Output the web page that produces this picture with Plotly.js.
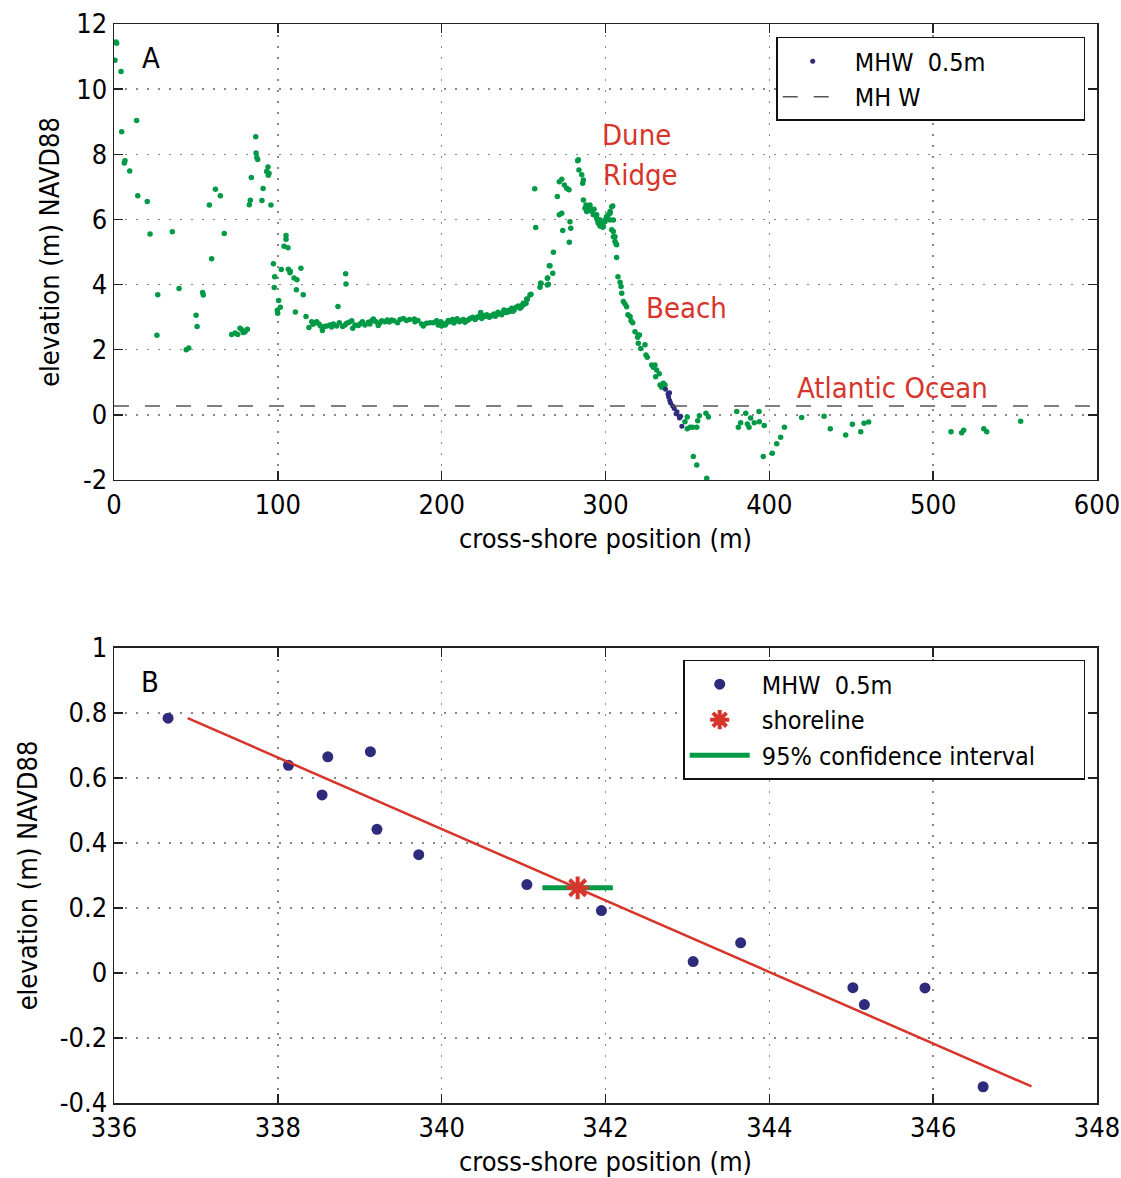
<!DOCTYPE html>
<html>
<head>
<meta charset="utf-8">
<script src="https://cdn.plot.ly/plotly-3.0.1.min.js"></script>
<style>html,body{margin:0;padding:0;background:#fff;}</style>
</head>
<body>
<div id="chart" style="width:1121px;height:1178px;"></div>
<script>
// ---------- Panel A: all surveyed points (green) ----------
const aX = [0.6,1.6,1.2,4.3,4.7,6.3,6.7,9.6,13.8,14.5,20.3,22.0,26.2,26.7,35.6,39.7,44.1,45.6,50.1,50.7,54.1,54.5,58.2,59.6,61.9,64.9,67.3,71.8,73.9,75.5,76.9,78.0,78.9,80.0,81.4,82.6,83.2,83.8,86.5,86.7,87.1,87.7,90.3,91.0,93.2,94.0,94.2,94.6,95.8,97.3,97.8,98.1,99.7,99.9,
100.5,101.5,102.1,103.8,105.0,105.0,106.2,106.4,107.4,107.6,109.9,110.7,111.3,111.7,114.1,115.5,117.2,119.0,
120.7,121.5,122.3,123.7,125.1,126.1,127.2,128.4,129.8,131.8,132.8,133.9,135.9,136.7,137.5,139.6,141.0,141.4,141.6,142.0,143.5,145.1,145.7,147.1,149.1,150.3,151.6,153.2,155.2,156.2,157.3,158.3,159.9,161.3,162.3,163.4,165.4,166.8,168.0,169.5,170.9,173.1,174.6,176.6,178.5,180.3,183.3,183.7,185.5,187.8,188.8,190.8,192.9,194.9,196.9,197.9,198.6,199.5,200.0,201.0,202.2,203.1,204.0,205.1,206.7,207.5,208.1,209.4,210.8,212.0,213.2,214.2,215.3,216.4,217.3,218.9,219.6,220.4,221.3,222.4,223.8,224.4,225.5,226.5,227.5,228.2,229.1,230.5,231.9,232.7,233.6,234.4,235.2,236.6,237.3,238.0,239.7,240.5,241.3,242.7,243.5,244.2,245.4,246.8,247.8,248.6,249.4,249.8,250.6,251.5,251.9,252.3,253.9,254.5,
256.8,257.4,260.0,260.4,260.6,264.5,264.5,264.7,265.1,265.7,266.1,267.8,268.2,270.6,271.8,271.8,273.3,273.3,273.9,274.9,276.3,277.7,277.9,278.3,278.8,283.4,283.0,283.8,285.5,286.1,286.5,286.5,287.5,288.1,288.5,288.9,290.5,290.5,291.6,291.6,292.6,293.0,294.6,294.6,295.0,295.6,295.6,296.2,296.6,296.6,297.7,298.3,298.7,299.7,299.7,300.7,300.7,301.7,302.8,302.8,302.8,303.8,303.8,304.4,304.8,304.8,304.8,305.8,305.8,306.4,306.8,306.8,307.6,308.9,309.5,309.9,310.9,311.9,312.9,313.7,315.0,315.6,316.6,318.0,319.6,320.0,320.0,320.7,321.5,324.1,324.7,325.5,328.2,329.2,330.2,330.6,331.2,332.8,333.3,334.3,335.3,336.3,
349.9,348.5,349.9,351.6,353.2,355.7,356.3,357.3,361.3,362.8,353.6,355.7,361.8,380.1,381.1,382.5,385.6,386.6,387.6,388.6,390.8,393.7,393.9,396.9,396.3,401.8,404.5,406.9,409.2,419.7,433.4,437.2,446.6,450.7,455.8,457.8,460.6,510.9,517.4,518.6,530.9,532.7,553.4];
const aY = [10.89,11.41,11.45,10.54,8.69,7.73,7.80,7.49,9.04,6.73,6.55,5.55,2.44,3.69,5.62,3.88,2.00,2.05,3.06,2.71,3.76,3.68,6.44,4.79,6.93,6.73,5.57,2.47,2.51,2.47,2.66,2.61,2.53,2.55,2.63,6.45,6.59,7.29,8.54,8.04,7.90,7.84,6.58,6.95,7.47,7.61,7.36,7.42,6.44,4.64,3.91,4.24,3.21,3.12,
3.51,3.30,4.46,5.18,5.51,5.39,5.13,4.47,4.36,4.41,4.20,3.16,3.84,4.15,4.50,3.69,3.02,2.68,
2.86,2.78,2.83,2.86,2.79,2.73,2.59,2.71,2.73,2.76,2.70,2.79,2.73,3.33,2.83,2.71,2.76,4.33,4.02,2.81,2.84,2.89,2.66,2.76,2.74,2.80,2.86,2.76,2.84,2.79,2.89,2.94,2.86,2.74,2.82,2.89,2.86,2.91,2.85,2.91,2.89,2.83,2.93,2.96,2.90,2.93,2.94,2.86,2.90,2.79,2.73,2.81,2.83,2.83,2.89,2.76,2.81,2.86,2.73,2.79,2.76,2.83,2.90,2.86,2.93,2.82,2.89,2.95,2.86,2.90,2.93,2.84,2.89,2.92,2.96,3.00,2.97,2.93,2.98,3.02,3.14,2.96,3.05,3.02,3.07,3.04,3.00,3.04,3.10,3.03,3.07,3.15,3.12,3.07,3.13,3.22,3.14,3.20,3.17,3.27,3.18,3.22,3.30,3.34,3.27,3.31,3.37,3.43,3.40,3.43,3.56,3.55,3.68,3.70,
6.94,5.75,3.92,4.04,4.04,4.19,3.99,4.20,4.01,4.58,4.58,4.35,4.99,6.70,7.16,6.14,7.23,6.19,5.66,7.06,6.96,6.91,5.30,5.93,5.73,7.83,7.80,7.52,7.37,7.11,7.21,6.60,6.34,6.44,6.24,6.31,6.37,6.44,6.24,6.29,6.14,6.31,6.14,6.04,5.98,5.88,5.93,5.98,5.80,5.98,5.88,5.76,5.78,5.98,5.93,6.09,6.04,6.14,6.19,5.98,6.24,6.39,5.68,6.41,5.98,5.63,5.47,5.47,5.32,5.25,5.22,4.83,4.24,4.07,3.94,3.73,3.48,3.40,3.32,3.07,3.02,2.89,2.83,2.55,2.38,2.45,2.20,2.45,2.04,2.15,1.84,1.77,1.53,1.46,1.53,1.17,1.38,1.26,0.92,0.85,0.97,0.92,
-0.07,-0.21,-0.43,-0.38,-0.38,-0.38,-0.18,-0.03,0.05,-0.07,-1.28,-1.54,-1.95,0.10,-0.38,-0.24,0.05,-0.28,-0.38,-0.10,-0.24,0.10,-0.21,-0.33,-1.28,-1.18,-0.89,-0.69,-0.38,-0.08,-0.04,-0.43,-0.62,-0.29,-0.52,-0.26,-0.22,-0.52,-0.55,-0.47,-0.43,-0.52,-0.20];

// ---------- MHW +/- 0.5 m points (shown in both panels) ----------
const mhwX = [336.66,338.13,338.54,338.61,339.13,339.21,339.72,341.04,341.95,343.07,343.65,345.02,345.16,345.90,346.61];
const mhwY = [0.784,0.639,0.548,0.665,0.681,0.442,0.364,0.272,0.192,0.035,0.093,-0.045,-0.097,-0.046,-0.350];

// MHW datum level
const mhwLevelX = [0, 600];
const mhwLevelY = [0.27, 0.27];

// ---------- Panel B: regression line, shoreline, 95% CI ----------
const fitX = [336.90, 347.20];
const fitY = [0.784, -0.349];
const shoreX = [341.66];
const shoreY = [0.262];
const ciX = [341.23, 342.09];
const ciY = [0.262, 0.262];

// tick labels
const yTicksA = [-2,0,2,4,6,8,10,12];
const yLabelsA = ['-2','0','2','4','6','8','10','12'];
const xTicksA = [0,100,200,300,400,500,600];
const xLabelsA = ['0','100','200','300','400','500','600'];
const yTicksB = [-0.4,-0.2,0,0.2,0.4,0.6,0.8,1];
const yLabelsB = ['-0.4','-0.2','0','0.2','0.4','0.6','0.8','1'];
const xTicksB = [336,338,340,342,344,346,348];
const xLabelsB = ['336','338','340','342','344','346','348'];

const GREEN = '#009a46';
const BLUE = '#2e2a7c';
const RED = '#d7342b';
const FONT = "'Liberation Sans Narrow','DejaVu Sans Condensed','Liberation Sans',sans-serif";
const SP = '\u00a0';
const PAD = SP.repeat(13);

const traces = [
  {x: aX, y: aY, type: 'scatter', mode: 'markers', xaxis: 'x', yaxis: 'y',
   marker: {color: GREEN, size: 5.5}, showlegend: false, hoverinfo: 'x+y'},
  {x: mhwX, y: mhwY, type: 'scatter', mode: 'markers', xaxis: 'x', yaxis: 'y',
   marker: {color: BLUE, size: 5}, name: SP + 'MHW' + SP + SP + '0.5m' + PAD, legend: 'legend', legendrank: 1},
  {x: mhwLevelX, y: mhwLevelY, type: 'scatter', mode: 'lines', xaxis: 'x', yaxis: 'y',
   line: {color: '#555', width: 1.5, dash: '15px,16px'}, name: SP + 'MH' + SP + 'W', legend: 'legend', legendrank: 2},

  {x: mhwX, y: mhwY, type: 'scatter', mode: 'markers', xaxis: 'x2', yaxis: 'y2',
   marker: {color: BLUE, size: 11}, name: SP + 'MHW' + SP + SP + '0.5m', legend: 'legend2', legendrank: 1},
  {x: fitX, y: fitY, type: 'scatter', mode: 'lines', xaxis: 'x2', yaxis: 'y2',
   line: {color: RED, width: 2.5}, showlegend: false},
  {x: ciX, y: ciY, type: 'scatter', mode: 'lines', xaxis: 'x2', yaxis: 'y2',
   line: {color: GREEN, width: 5}, name: SP + '95% confidence interval' + SP.repeat(6), legend: 'legend2', legendrank: 3},
  {x: shoreX, y: shoreY, type: 'scatter', mode: 'markers', xaxis: 'x2', yaxis: 'y2',
   marker: {symbol: 'asterisk-open', color: RED, size: 19, line: {color: RED, width: 4}},
   name: SP + 'shoreline', legend: 'legend2', legendrank: 2}
];

const axisBase = {
  showline: true, linecolor: '#222', linewidth: 1.5, mirror: 'ticks',
  ticks: 'inside', ticklen: 9, tickwidth: 1.5, tickcolor: '#222',
  showgrid: true, gridcolor: '#888', gridwidth: 1.5, griddash: '2px,9px',
  zeroline: false, tickfont: {size: 27, family: FONT, color: '#000'}
};

const legendBase = {xanchor: 'right', yanchor: 'top',
  bgcolor: '#fff', bordercolor: '#111', borderwidth: 1.5,
  font: {size: 25, family: FONT}, itemwidth: 60, tracegroupgap: 0};

const layout = {
  width: 1121, height: 1178,
  margin: {l: 114, r: 24, t: 24, b: 75},
  paper_bgcolor: '#fff', plot_bgcolor: '#fff',
  font: {family: FONT, size: 26, color: '#000'},
  xaxis: Object.assign({}, axisBase, {domain: [0, 1], anchor: 'y', range: [0, 600],
    tickmode: 'array', tickvals: xTicksA, ticktext: xLabelsA,
    title: {text: 'cross-shore position (m)', font: {size: 27, family: FONT}, standoff: 10}}),
  yaxis: Object.assign({}, axisBase, {domain: [0.5774, 1], anchor: 'x', range: [-2, 12],
    tickmode: 'array', tickvals: yTicksA, ticktext: yLabelsA,
    title: {text: 'elevation (m) NAVD88', font: {size: 27, family: FONT}, standoff: 8}}),
  xaxis2: Object.assign({}, axisBase, {domain: [0, 1], anchor: 'y2', range: [336, 348],
    tickmode: 'array', tickvals: xTicksB, ticktext: xLabelsB,
    title: {text: 'cross-shore position (m)', font: {size: 27, family: FONT}, standoff: 10}}),
  yaxis2: Object.assign({}, axisBase, {domain: [0, 0.4217], anchor: 'x2', range: [-0.4, 1],
    tickmode: 'array', tickvals: yTicksB, ticktext: yLabelsB,
    title: {text: 'elevation (m) NAVD88', font: {size: 27, family: FONT}, standoff: 14}}),
  legend: Object.assign({}, legendBase, {x: 0.988, y: 0.988}),
  legend2: Object.assign({}, legendBase, {x: 0.988, y: 0.4106}),
  annotations: [
    {xref: 'x', yref: 'y', x: 15.9, y: 10.96, text: 'A', showarrow: false, xanchor: 'left', font: {size: 29, color: '#000'}},
    {xref: 'x', yref: 'y', x: 296.6, y: 8.59, text: 'Dune', showarrow: false, xanchor: 'left', font: {size: 29, color: RED}},
    {xref: 'x', yref: 'y', x: 297.0, y: 7.37, text: 'Ridge', showarrow: false, xanchor: 'left', font: {size: 29, color: RED}},
    {xref: 'x', yref: 'y', x: 323.8, y: 3.28, text: 'Beach', showarrow: false, xanchor: 'left', font: {size: 29, color: RED}},
    {xref: 'x', yref: 'y', x: 415.5, y: 0.83, text: 'Atlantic Ocean', showarrow: false, xanchor: 'left', font: {size: 29, color: RED}},
    {xref: 'x2', yref: 'y2', x: 336.3, y: 0.895, text: 'B', showarrow: false, xanchor: 'left', font: {size: 29, color: '#000'}}
  ]
};

Plotly.newPlot('chart', traces, layout, {displayModeBar: false, staticPlot: true});
</script>
</body>
</html>
